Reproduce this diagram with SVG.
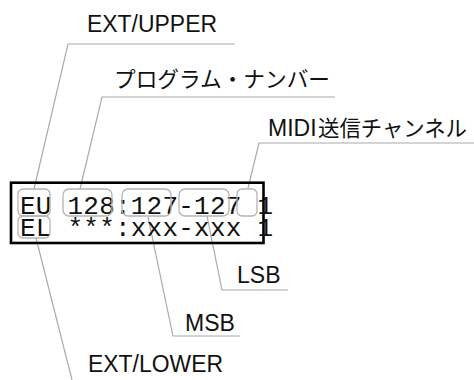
<svg xmlns="http://www.w3.org/2000/svg" width="474" height="380" viewBox="0 0 474 380">
<style>
.lbl{font-family:"Liberation Sans","Noto Sans CJK JP",sans-serif;font-size:23px;fill:#111}
.jp{font-family:"Noto Sans CJK JP","Liberation Sans",sans-serif;font-size:22px;fill:#111}
.mono{font-family:"Liberation Mono","DejaVu Sans Mono",monospace;font-size:26px;fill:#111}
.lead{fill:none;stroke:#aaaaaa;stroke-width:1.2}
.hl{fill:none;stroke:#b4b4b4;stroke-width:1.3}
</style>
<rect width="474" height="380" fill="#ffffff"/>
<g id="connectors">
<polyline class="lead" points="235,44 68,44 34,189"/>
<polyline class="lead" points="335,97 102,97 80,189"/>
<polyline class="lead" points="474,143 259,143 248,188"/>
<polyline class="lead" points="36,238 72,380"/>
<polyline class="lead" points="148,217 173,336 240,336"/>
<polyline class="lead" points="207,216 222,290 288,290"/>
</g>
<g id="display">
<rect x="11" y="182.7" width="252.5" height="60.3" fill="none" stroke="#000" stroke-width="2.6"/>
<text class="mono" x="20" y="214" textLength="253" lengthAdjust="spacing">EU 128:127-127 1</text>
<text class="mono" x="20" y="236" textLength="253" lengthAdjust="spacing">EL ***:xxx-xxx 1</text>
</g>
<g id="highlights">
<rect id="hl-eu" class="hl" x="18" y="189" width="32" height="27" rx="5"/>
<rect id="hl-el" class="hl" x="18" y="216" width="32" height="22" rx="5"/>
<rect id="hl-prog" class="hl" x="63" y="189" width="49" height="27" rx="6"/>
<rect id="hl-msb" class="hl" x="122" y="189" width="49" height="27" rx="6"/>
<rect id="hl-lsb" class="hl" x="179" y="189" width="50" height="27" rx="6"/>
<rect id="hl-ch" class="hl" x="237" y="189" width="20" height="27" rx="5"/>
</g>
<g id="label-ext-upper"><text class="lbl" x="87" y="32" textLength="130" lengthAdjust="spacingAndGlyphs">EXT/UPPER</text></g>
<g id="label-program"><text class="jp" x="114" y="87" textLength="216" lengthAdjust="spacingAndGlyphs">プログラム・ナンバー</text></g>
<g id="label-midi"><text class="lbl" x="268" y="136">MIDI</text><text class="jp" x="318" y="136" textLength="149" lengthAdjust="spacingAndGlyphs">送信チャンネル</text></g>
<g id="label-lsb"><text class="lbl" x="237" y="283">LSB</text></g>
<g id="label-msb"><text class="lbl" x="185" y="331">MSB</text></g>
<g id="label-ext-lower"><text class="lbl" x="88" y="372" textLength="135" lengthAdjust="spacingAndGlyphs">EXT/LOWER</text></g>
</svg>
